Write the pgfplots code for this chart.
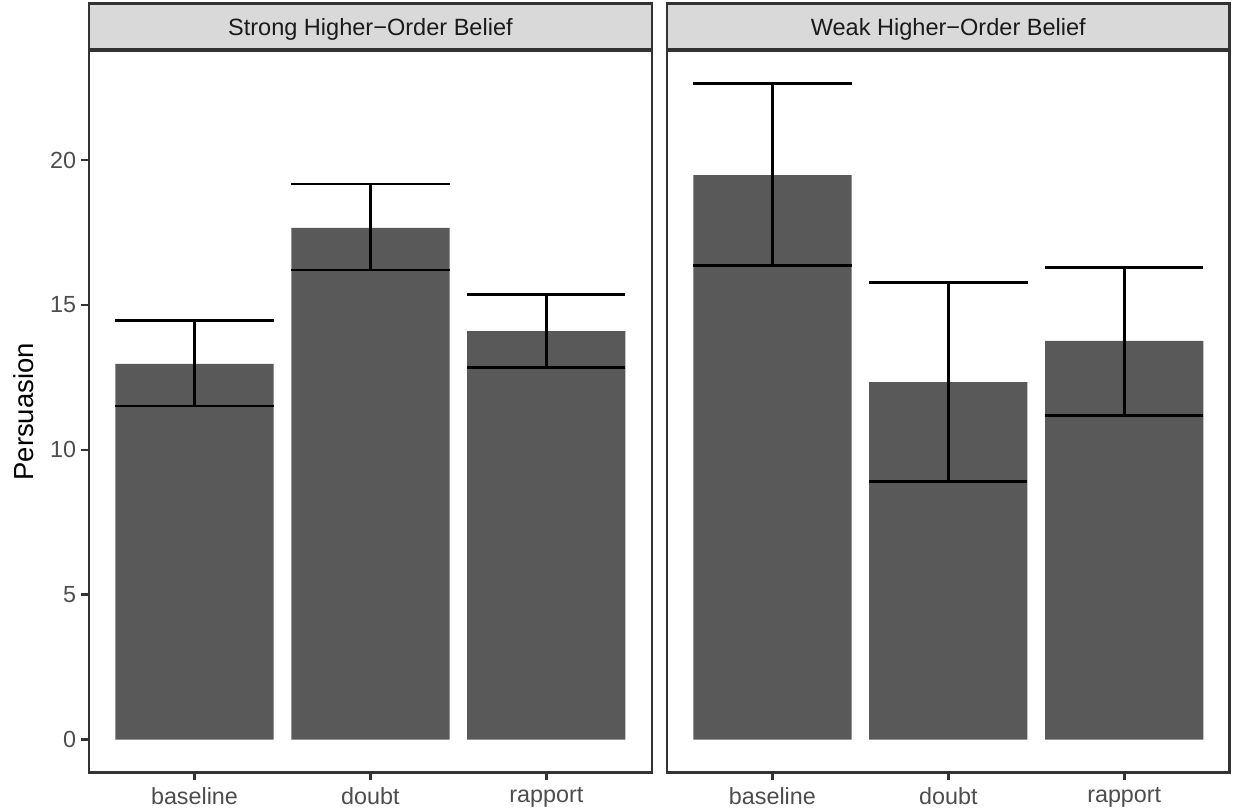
\documentclass[border=0pt]{standalone}
\usepackage{fontspec}
\setmainfont{Liberation Sans}
\usepackage{pgfplots}
\usepackage{pgfplotstable}
\pgfplotsset{compat=1.18}
\definecolor{barfill}{HTML}{595959}
\definecolor{grey20}{HTML}{333333}
\definecolor{grey30}{HTML}{4D4D4D}
\definecolor{grey85}{HTML}{D9D9D9}
\definecolor{grey10}{HTML}{1A1A1A}

\pgfplotstableread{
x y ep em
1 12.97 1.49 1.46
2 17.66 1.51 1.45
3 14.10 1.26 1.25
}\strongdata
\pgfplotstableread{
x y ep em
1 19.48 3.15 3.11
2 12.34 3.44 3.42
3 13.76 2.54 2.58
}\weakdata

\pgfplotsset{facet/.style={
  width=270.2pt, height=346.3pt, scale only axis,
  xmin=0.4, xmax=3.6, ymin=-1.13, ymax=23.76,
  xtick={1,2,3}, xticklabels={baseline,doubt,rapport},
  axis line style={draw=grey20, line width=1.3pt},
  tick style={draw=grey20, line width=1.3pt},
  tick align=outside, major tick length=3.6pt,
  tick pos=left,
  /pgf/number format/assume math mode=true,
  ticklabel style={font=\fontsize{11.2}{13}\selectfont, text=grey30},
  xticklabel style={inner sep=0pt, anchor=north, yshift=-3.6pt},
  yticklabel style={inner sep=0pt, anchor=east, xshift=-2.4pt},
  every axis title shift=0pt,
  title style={at={(0.5,1)}, anchor=south, yshift=0pt, fill=grey85, draw=grey20,
    line width=1.3pt, minimum width=270.2pt, minimum height=22.2pt,
    inner sep=0pt, text depth=0pt, text=grey10, font=\fontsize{11.3}{13}\selectfont},
}}

\begin{document}
\begin{tikzpicture}
\useasboundingbox (-42.7pt,-18.96pt) rectangle (550.1pt,370.8pt);
\begin{axis}[facet,
  ytick={0,5,10,15,20},
  title={Strong Higher−Order Belief},
  ylabel={Persuasion},
  every axis y label/.style={at={(axis description cs:-0.1155,0.5)}, anchor=center, rotate=90,
    font=\fontsize{13.2}{15}\selectfont, text=black},
]
\addplot[ybar, bar width=0.9, fill=barfill, draw=none,
  error bars/.cd, y dir=both, y explicit,
  error bar style={black, line width=1.3pt},
  error mark options={rotate=90, black, line width=1.3pt, mark size=38pt}]
  table[x=x, y=y, y error plus=ep, y error minus=em] {\strongdata};
\end{axis}
\begin{axis}[facet, at={(277.4pt,0pt)},
  ytick=\empty,
  title={Weak Higher−Order Belief},
]
\addplot[ybar, bar width=0.9, fill=barfill, draw=none,
  error bars/.cd, y dir=both, y explicit,
  error bar style={black, line width=1.3pt},
  error mark options={rotate=90, black, line width=1.3pt, mark size=38pt}]
  table[x=x, y=y, y error plus=ep, y error minus=em] {\weakdata};
\end{axis}
\end{tikzpicture}
\end{document}
